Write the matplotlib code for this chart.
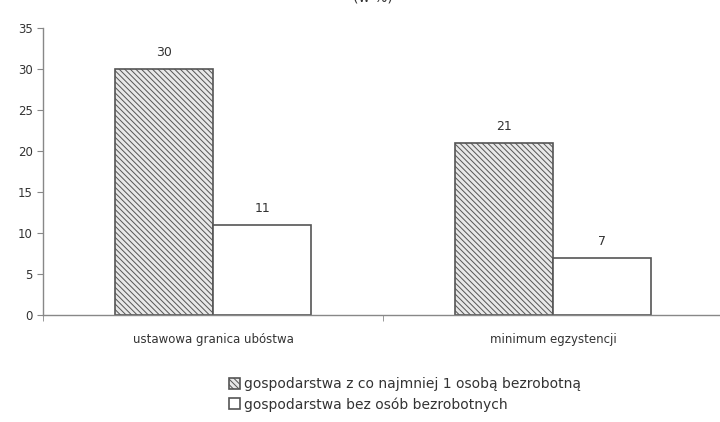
import matplotlib
matplotlib.use("Agg")
import matplotlib.pyplot as plt
import numpy as np

categories = ["ustawowa granica ubóstwa", "minimum egzystencji"]
series_names = ["gospodarstwa z co najmniej 1 osobą bezrobotną",
                "gospodarstwa bez osób bezrobotnych"]
with_unemployed = [30, 21]
without_unemployed = [11, 7]
yticks = [0, 5, 10, 15, 20, 25, 30, 35]

plt.rcParams['font.family'] = ['DejaVu Sans']
plt.rcParams['hatch.color'] = '#9a9a9a'
plt.rcParams['hatch.linewidth'] = 0.7

fig = plt.figure(figsize=(7.2, 4.22), dpi=100)
ax = fig.add_axes([0.060, 0.2536, 0.944, 0.68])

x = np.arange(len(categories))
w = 0.288
edge = '#555555'
b1 = ax.bar(x - w/2, with_unemployed, w, facecolor='#e8e8e8', edgecolor=edge,
            hatch='\\\\\\\\\\\\', linewidth=1.2, label=series_names[0])
b2 = ax.bar(x + w/2, without_unemployed, w, facecolor='white', edgecolor=edge,
            linewidth=1.2, label=series_names[1])

for bars, vals in ((b1, with_unemployed), (b2, without_unemployed)):
    for r, v in zip(bars, vals):
        ax.text(r.get_x() + r.get_width()/2, v + 1.2, str(v), ha='center',
                va='bottom', fontsize=9, color='#333333')

ax.set_xlim(-0.5, 1.5)
ax.set_ylim(0, 35)
ax.set_yticks(yticks)
ax.set_xticks(x)
ax.set_xticklabels(categories)
ax.set_xticks([-0.5, 0.5, 1.5], minor=True)
ax.tick_params(axis='x', which='major', length=0, pad=13, labelsize=8.5, labelcolor='#333333')
ax.tick_params(axis='x', which='minor', length=4, color='#888888')
ax.tick_params(axis='y', length=4, color='#888888', labelsize=8.5, labelcolor='#333333')
for s in ['top', 'right']:
    ax.spines[s].set_visible(False)
for s in ['left', 'bottom']:
    ax.spines[s].set_color('#888888')
    ax.spines[s].set_linewidth(1.0)

fig.text(0.518, 1.005, "(w %)", ha='center', va='center', fontsize=10, color='#333333')

leg = fig.legend(handles=[b1, b2], loc='upper left', bbox_to_anchor=(0.308, 0.122),
                 frameon=False, fontsize=10, handlelength=0.8, handleheight=0.8,
                 handletextpad=0.3, labelspacing=0.4, borderpad=0)
for t in leg.get_texts():
    t.set_color('#333333')

fig.savefig("out.png", dpi=100)
